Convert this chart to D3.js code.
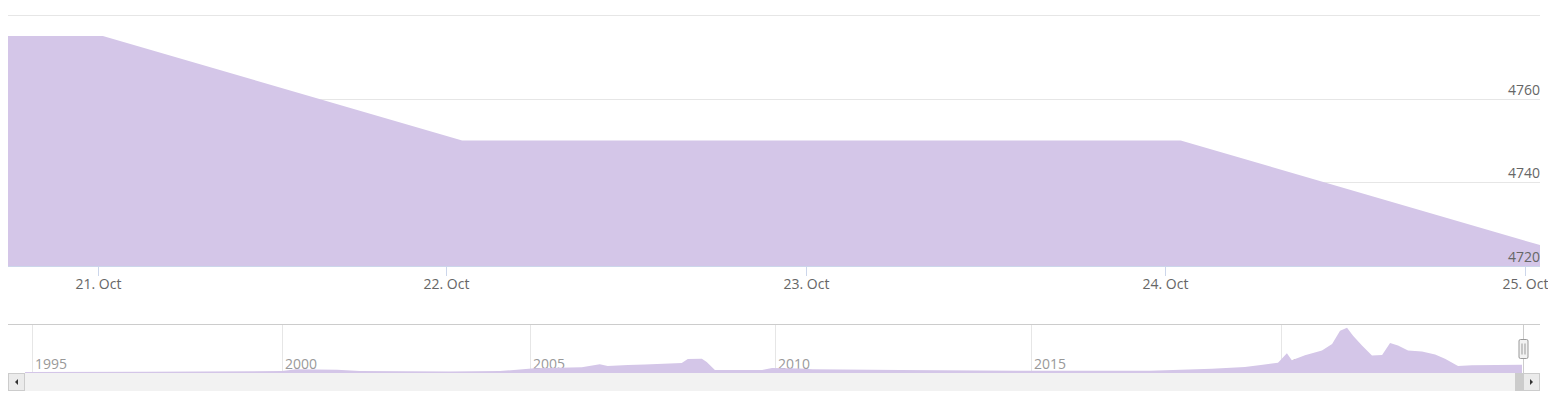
<!DOCTYPE html>
<html>
<head>
<meta charset="utf-8">
<script src="https://cdn.jsdelivr.net/npm/d3@7"></script>
<style>
  html, body { margin: 0; padding: 0; background: #fff; }
  svg { display: block; font-family: "Open Sans", sans-serif; }
</style>
</head>
<body>
<svg id="chart" width="1548" height="406"></svg>
<script>
// ---- Data ----
const mainDates  = ["2024-10-20T00:20Z", "2024-10-21T00:20Z", "2024-10-22T01:05Z", "2024-10-23T01:00Z", "2024-10-24T01:05Z", "2024-10-25T01:00Z"];
const mainValues = [4775, 4775, 4750, 4750, 4750, 4725];
// visible window on the ordinal (point-index) axis
const mainIndexRange = [0.736, 5];
const yTicks     = [4720, 4740, 4760, 4780];
const xTickDates = ["2024-10-21", "2024-10-22", "2024-10-23", "2024-10-24", "2024-10-25"];

const navDates = ["1994-11-10","1997-05-01","2000-01-01","2000-04-15","2001-02-10","2001-07-25","2003-05-20","2004-05-25",
  "2005-02-05","2006-01-22","2006-06-05","2006-08-03","2007-01-01","2007-05-07","2008-02-06","2008-03-22","2008-07-05",
  "2008-08-10","2008-10-10","2009-09-25","2009-12-10","2010-06-27","2010-09-27","2012-06-10","2015-01-01","2017-05-18",
  "2018-08-14","2019-04-12","2019-08-21","2019-12-10","2020-02-13","2020-03-20","2020-06-24","2020-10-26","2021-01-08",
  "2021-03-07","2021-04-27","2021-06-10","2021-08-14","2021-10-26","2022-01-08","2022-03-07","2022-05-04","2022-07-16",
  "2022-10-26","2023-01-30","2023-04-12","2023-07-16","2023-10-26","2024-10-20","2024-10-25"];
const navValues = [600, 700, 1100, 2100, 1900, 1150, 900, 1150,
  2700, 3250, 5100, 4000, 4550, 4850, 5700, 8000, 8150,
  6300, 1700, 1700, 2850, 2550, 2100, 1700, 1300, 1300,
  2450, 3400, 4750, 5850, 11400, 7400, 10250, 12950, 16700,
  24300, 26000, 21500, 15800, 10100, 10400, 17300, 15800, 12950,
  12350, 10650, 8150, 4000, 4400, 4775, 4725];
const navYearTicks = [1995, 2000, 2005, 2010, 2015, 2020];

// ---- Layout ----
const svg = d3.select("#chart");
const areaFill = "#d4c6e8";
const plot = { left: 8, right: 1540, top: 15, bottom: 266 };
const nav  = { left: 25, right: 1522, top: 324, bottom: 373, outerLeft: 8, outerRight: 1540 };

const parse = s => new Date(s.length === 10 ? s + "T00:00Z" : s);
const mainData = mainDates.map((d, i) => ({ t: parse(d), v: mainValues[i] }));
const navData  = navDates.map((d, i) => ({ t: parse(d), v: navValues[i] }));

// ---- Main chart (ordinal axis: points equally spaced) ----
const idx = d3.scaleLinear().domain(mainIndexRange).range([plot.left, plot.right]);
const x = d3.scaleUtc().domain(mainData.map(d => d.t)).range(mainData.map((d, i) => idx(i)));
const y = d3.scaleLinear().domain([4720, 4780]).range([plot.bottom, plot.top]);

svg.append("clipPath").attr("id", "mainClip")
  .append("rect").attr("x", plot.left).attr("y", plot.top)
  .attr("width", plot.right - plot.left).attr("height", plot.bottom - plot.top);

// grid
svg.append("g").selectAll("line").data(yTicks).join("line")
  .attr("x1", plot.left).attr("x2", plot.right)
  .attr("y1", d => Math.round(y(d)) + 0.5).attr("y2", d => Math.round(y(d)) + 0.5)
  .attr("stroke", "#e6e6e6").attr("stroke-width", 1);

// area
const area = d3.area().x(d => x(d.t)).y0(plot.bottom).y1(d => y(d.v));
svg.append("path").datum(mainData)
  .attr("clip-path", "url(#mainClip)")
  .attr("d", area).attr("fill", areaFill);

// y labels (right)
svg.append("g").selectAll("text").data(yTicks.filter(d => d < 4780)).join("text")
  .attr("x", plot.right).attr("y", d => y(d) - 4)
  .attr("text-anchor", "end").attr("fill", "#666").attr("font-size", 14)
  .text(d => d);

// x axis line
svg.append("line").attr("x1", plot.left).attr("x2", plot.right)
  .attr("y1", plot.bottom + 0.5).attr("y2", plot.bottom + 0.5)
  .attr("stroke", "#ccd6eb");

const xTicks = xTickDates.map(parse);
const fmt = d3.utcFormat("%-d. %b");
const xt = svg.append("g").selectAll("g").data(xTicks).join("g")
  .attr("transform", d => `translate(${Math.round(x(d)) + 0.5},0)`);
xt.append("line").attr("y1", plot.bottom).attr("y2", plot.bottom + 10).attr("stroke", "#ccd6eb");
xt.append("text").attr("y", 289).attr("text-anchor", "middle")
  .attr("fill", "#666").attr("font-size", 14).text(d => fmt(d));

// ---- Navigator ----
const years = navYearTicks.map(yr => new Date(Date.UTC(yr, 0, 1)));
const navStart = navData[0].t, navEnd = navData[navData.length - 1].t;
// ordinal-like navigator axis: year positions follow data density
const nx = d3.scaleUtc()
  .domain([navStart, ...years, navEnd])
  .range([nav.left, 32, 282, 530, 775, 1031, 1281, nav.right]);
const ny = d3.scaleLinear().domain([0, 26500]).range([nav.bottom, nav.top + 3]);

// year grid + labels
svg.append("g").selectAll("line").data(years).join("line")
  .attr("x1", d => Math.round(nx(d)) + 0.5).attr("x2", d => Math.round(nx(d)) + 0.5)
  .attr("y1", nav.top).attr("y2", nav.bottom)
  .attr("stroke", "#e6e6e6");
svg.append("g").selectAll("text").data(years).join("text")
  .attr("x", d => nx(d) + 3).attr("y", 369)
  .attr("fill", "#999").attr("font-size", 14)
  .text(d => d.getUTCFullYear());

// nav area
const navArea = d3.area().x(d => nx(d.t)).y0(nav.bottom).y1(d => Math.min(ny(d.v), nav.bottom - 1));
svg.append("path").datum(navData).attr("d", navArea).attr("fill", areaFill);

// outline
const selX = Math.round(nx(navEnd)) + 0.5;
svg.append("path")
  .attr("d", `M${nav.outerLeft},${nav.top + 0.5}H${nav.outerRight}M${selX + 1},${nav.top}V${nav.bottom}`)
  .attr("stroke", "#cccccc").attr("fill", "none");

// scrollbar
const sbTop = 373, sbH = 18;
svg.append("rect").attr("x", nav.outerLeft).attr("y", sbTop).attr("width", nav.outerRight - nav.outerLeft).attr("height", sbH)
  .attr("fill", "#f2f2f2");
svg.append("rect").attr("x", selX - 7.5).attr("y", sbTop).attr("width", 8).attr("height", sbH).attr("fill", "#cccccc");
[[nav.outerLeft, -1], [nav.outerRight - 17, 1]].forEach(([bx, dir]) => {
  svg.append("rect").attr("x", bx + 0.5).attr("y", sbTop + 0.5).attr("width", 16).attr("height", sbH - 1)
    .attr("fill", "#ebebeb").attr("stroke", "#cccccc");
  const cx = bx + 8.5, cy = sbTop + sbH / 2;
  svg.append("path")
    .attr("d", dir < 0 ? `M${cx + 1.5},${cy - 3}L${cx - 1.5},${cy}L${cx + 1.5},${cy + 3}Z` : `M${cx - 1.5},${cy - 3}L${cx + 1.5},${cy}L${cx - 1.5},${cy + 3}Z`)
    .attr("fill", "#333");
});

// handle
const hx = selX + 1;
svg.append("rect").attr("x", hx - 4.5).attr("y", 339.5).attr("width", 9).attr("height", 19).attr("rx", 1.5)
  .attr("fill", "#f2f2f2").attr("stroke", "#999");
svg.append("path").attr("d", `M${hx - 1.5},343.5V354.5M${hx + 1.5},343.5V354.5`).attr("stroke", "#999");
</script>
</body>
</html>
